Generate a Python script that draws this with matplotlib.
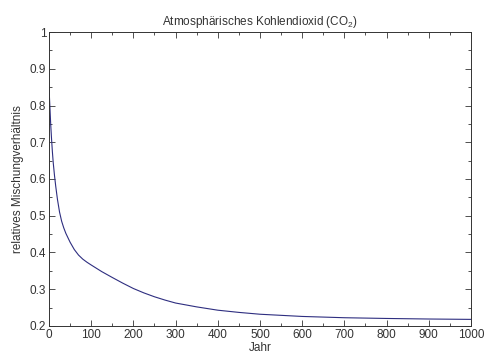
import numpy as np
import matplotlib
matplotlib.use('Agg')
import matplotlib.pyplot as plt
from matplotlib.ticker import MultipleLocator, FuncFormatter

plt.rcParams['font.family'] = ['Liberation Sans', 'DejaVu Sans']
plt.rcParams['mathtext.fontset'] = 'custom'
plt.rcParams['mathtext.rm'] = 'Liberation Sans'
plt.rcParams['mathtext.default'] = 'regular'

# values
jahr = [0, 2, 4, 6, 8, 10, 13, 16, 20, 25, 30, 35, 40, 50, 60, 70, 80, 90,
        100, 125, 150, 175, 200, 225, 250, 275, 300, 350, 400, 450, 500,
        600, 700, 800, 900, 1000]
verhaeltnis = [0.85, 0.80, 0.75, 0.71, 0.675, 0.645, 0.61, 0.58, 0.545,
               0.51, 0.485, 0.467, 0.452, 0.428, 0.408, 0.393, 0.382,
               0.3735, 0.366, 0.348, 0.332, 0.3165, 0.302, 0.290, 0.2795,
               0.2705, 0.2625, 0.252, 0.243, 0.237, 0.232, 0.226, 0.2225,
               0.2205, 0.219, 0.218]

fig = plt.figure(figsize=(4.86, 3.58), dpi=100)
ax = fig.add_axes([0.1008, 0.0894, 0.8683, 0.8212])

ax.plot(jahr, verhaeltnis, color='#2e2e80', lw=0.8)

ax.set_xlim(0, 1000)
ax.set_ylim(0.2, 1)
ax.xaxis.set_major_locator(MultipleLocator(100))
ax.xaxis.set_minor_locator(MultipleLocator(50))
ax.yaxis.set_major_locator(MultipleLocator(0.1))
ax.yaxis.set_minor_locator(MultipleLocator(0.05))
ax.yaxis.set_major_formatter(FuncFormatter(lambda v, p: '%g' % round(v, 2)))
ax.tick_params(which='both', direction='in', top=True, right=True,
               labelsize=8.5, colors='#333333', pad=2)
ax.tick_params(which='major', length=4, width=0.6)
ax.tick_params(which='minor', length=2, width=0.6)
for s in ax.spines.values():
    s.set_color('#333333')
    s.set_linewidth(0.7)

ax.set_title('Atmosphärisches Kohlendioxid (CO$_2$)', fontsize=8.5, color='#333333', pad=5)
ax.set_xlabel('Jahr', fontsize=8.5, color='#333333', labelpad=1)
ax.set_ylabel('relatives Mischungverhältnis', fontsize=8.5, color='#333333', labelpad=4)

fig.savefig('out.png', dpi=100)
